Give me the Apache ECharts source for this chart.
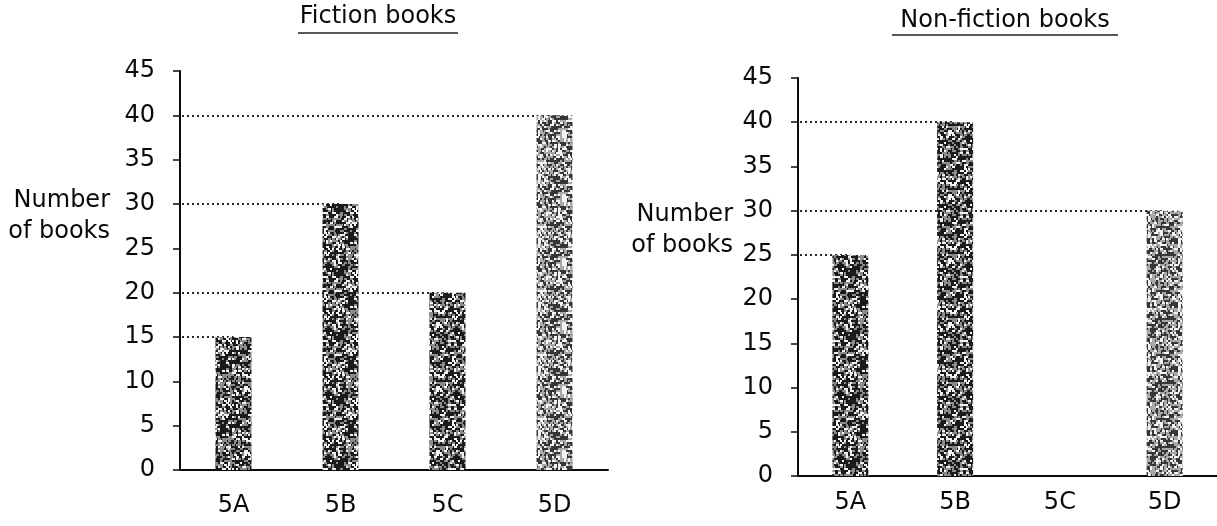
<!DOCTYPE html>
<html><head><meta charset="utf-8">
<script src="https://cdn.jsdelivr.net/npm/echarts@6/dist/echarts.min.js"></script>
<style>html,body{margin:0;padding:0;background:#fff}#c{width:1217px;height:526px}</style>
</head><body><div id="c"></div>
<script>
const categories = ['5A', '5B', '5C', '5D'];
const fictionValues = [15, 30, 20, 40];
const nonFictionValues = [25, 40, 0, 30];
const yMin = 0, yMax = 45, yInterval = 5;
const chartTitles = ['Fiction books', 'Non-fiction books'];
const yAxisName = 'Number\nof books';

const FONT = '"DejaVu Sans", sans-serif';
const INK = '#0a0a0a';
const grids = [
  { left: 180, top: 71, width: 428, height: 399 },
  { left: 798, top: 78, width: 427, height: 398 }
];

// deterministic speckle texture (decoration only)
function hash(x, y, s) {
  let h = (x * 374761393 + y * 668265263 + s * 2246822519) >>> 0;
  h = Math.imul(h ^ (h >>> 13), 1274126177) >>> 0;
  return ((h ^ (h >>> 16)) >>> 0) / 4294967296;
}
function texture(base, mid, light, density, seed) {
  const n = 64;
  const c = document.createElement('canvas');
  c.width = n; c.height = n;
  const g = c.getContext('2d');
  g.fillStyle = base; g.fillRect(0, 0, n, n);
  for (let y = 0; y < n; y += 2) {
    for (let x = 0; x < n; x += 2) {
      const h = hash(x, y, seed);
      if (h < density) {
        g.fillStyle = h < density * 0.4 ? light : mid;
        const w = hash(y, x, seed + 7) < 0.5 ? 2 : 3;
        g.fillRect(x, y, w, 2);
      }
    }
  }
  return c;
}
const darkTex = texture('#1a1a1a', '#8c8c8c', '#f2f2f2', 0.45, 3);
const lightTex = texture('#363636', '#a8a8a8', '#f4f4f4', 0.55, 11);

function barSeries(values, idx) {
  return {
    type: 'bar', xAxisIndex: idx, yAxisIndex: idx, barWidth: 36, z: 10,
    data: values.map((v, i) => ({
      value: v,
      itemStyle: { color: { image: i === 3 ? lightTex : darkTex, repeat: 'repeat' } }
    })),
    markLine: {
      silent: true, z: 1, animation: false,
      symbol: ['none', 'none'],
      label: { show: false },
      lineStyle: { color: '#2a2a2a', width: 2, type: [2, 3] },
      emphasis: { disabled: true },
      data: values.map((v, i) => [v, i]).filter(d => d[0] > 0).map(d => [
        { coord: [categories[d[1]], d[0]], x: grids[idx].left + 2 },
        { coord: [categories[d[1]], d[0]] }
      ])
    }
  };
}

function xAxis(idx, margin) {
  return {
    gridIndex: idx, type: 'category', data: categories,
    axisLine: { lineStyle: { color: INK, width: 2 } },
    axisTick: { show: false },
    axisLabel: { fontFamily: FONT, fontSize: 24, color: INK, margin: margin }
  };
}
function yAxis(idx) {
  return {
    gridIndex: idx, type: 'value', min: yMin, max: yMax, interval: yInterval,
    splitLine: { show: false },
    axisLine: { show: true, lineStyle: { color: INK, width: 2 } },
    axisTick: { show: true, length: 7, lineStyle: { color: INK, width: 1.5 } },
    axisLabel: { fontFamily: FONT, fontSize: 24, color: INK, margin: 25 }
  };
}

function titleGraphic(text, cx, cy, uy, halfW) {
  return [
    { type: 'text', x: cx, y: cy, style: { text: text, font: '24px ' + FONT, fill: INK, align: 'center', verticalAlign: 'middle' } },
    { type: 'line', shape: { x1: cx - halfW, y1: uy, x2: cx + halfW, y2: uy }, style: { stroke: '#222', lineWidth: 1.6 } }
  ];
}
function nameGraphic(rx, cy) {
  return { type: 'text', x: rx, y: cy, style: { text: yAxisName, font: '24px ' + FONT, fill: INK, align: 'right', verticalAlign: 'middle', lineHeight: 31 } };
}

const chart = echarts.init(document.getElementById('c'));
chart.setOption({
  animation: false,
  backgroundColor: '#fff',
  grid: grids,
  xAxis: [xAxis(0, 24), xAxis(1, 15)],
  yAxis: [yAxis(0), yAxis(1)],
  series: [barSeries(fictionValues, 0), barSeries(nonFictionValues, 1)],
  graphic: [].concat(
    titleGraphic(chartTitles[0], 378, 17, 33, 80),
    titleGraphic(chartTitles[1], 1005, 21, 35, 113),
    [nameGraphic(110, 216), nameGraphic(733, 230)]
  )
});
</script></body></html>
